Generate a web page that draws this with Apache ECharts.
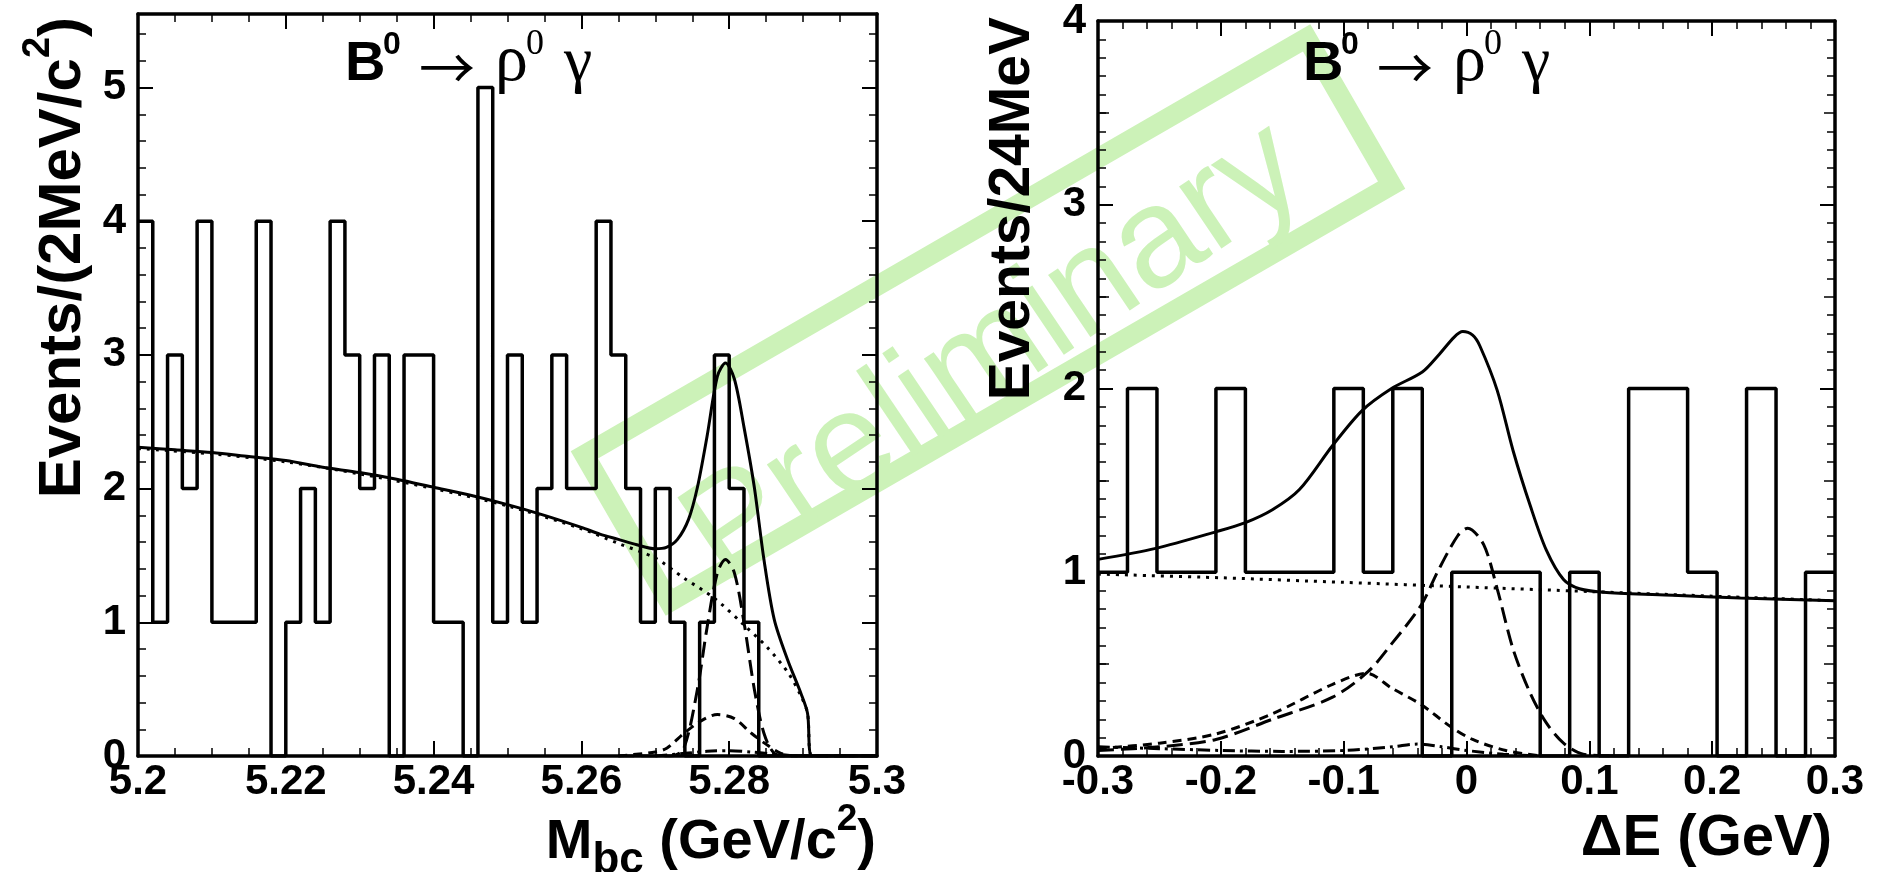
<!DOCTYPE html>
<html>
<head>
<meta charset="utf-8">
<title>B0 to rho0 gamma: Mbc and Delta E fits</title>
<script src="https://cdn.jsdelivr.net/npm/echarts@6/dist/echarts.min.js"></script>
<style>
html, body { margin: 0; padding: 0; background: #fff; }
#main { width: 1879px; height: 872px; }
</style>
</head>
<body>
<div id="main"></div>
<script>
// ---- Mbc histogram: 50 bins of 2 MeV starting at 5.20 GeV
var mbcStart = 5.2;
var mbcBinWidth = 0.002;
var mbcCounts = [4, 1, 3, 2, 4, 1, 1, 1, 4, 0,
                 1, 2, 1, 4, 3, 2, 3, 0, 3, 3,
                 1, 1, 0, 5, 1, 3, 1, 2, 3, 2,
                 2, 4, 3, 2, 1, 2, 1, 0, 1, 3,
                 2, 1, 0, 0, 0, 0, 0, 0, 0, 0];

// fit curves, [Mbc, events]
var mbcTotal = [[5.200, 2.31], [5.205, 2.29], [5.210, 2.27], [5.215, 2.24], [5.220, 2.21],
                [5.225, 2.16], [5.230, 2.12], [5.235, 2.07], [5.240, 2.01], [5.245, 1.95],
                [5.250, 1.88], [5.255, 1.80], [5.260, 1.71], [5.2625, 1.66], [5.265, 1.62],
                [5.2675, 1.58], [5.270, 1.55], [5.2715, 1.56], [5.273, 1.62], [5.2745, 1.77],
                [5.2757, 2.01], [5.277, 2.39], [5.2784, 2.84], [5.2795, 2.94], [5.2807, 2.82],
                [5.282, 2.46], [5.2834, 2.01], [5.2847, 1.47], [5.2861, 1.02], [5.2879, 0.72],
                [5.2897, 0.47], [5.2906, 0.32], [5.2912, 0.0], [5.300, 0.0]];
var mbcBackground = [[5.200, 2.30], [5.210, 2.26], [5.220, 2.20], [5.230, 2.11], [5.240, 2.00],
                     [5.250, 1.87], [5.260, 1.70], [5.265, 1.59], [5.270, 1.48], [5.2739, 1.33],
                     [5.278, 1.18], [5.282, 0.98], [5.2852, 0.81], [5.288, 0.62], [5.2897, 0.45],
                     [5.2906, 0.32], [5.2912, 0.0], [5.300, 0.0]];
var mbcSignal = [[5.265, 0.0], [5.272, 0.0], [5.2738, 0.05], [5.2757, 0.5], [5.277, 0.96],
                 [5.2784, 1.37], [5.2795, 1.47], [5.2807, 1.37], [5.282, 1.0], [5.2834, 0.5],
                 [5.2847, 0.17], [5.2861, 0.02], [5.288, 0.0], [5.300, 0.0]];
var mbcCrossFeed = [[5.265, 0.0], [5.270, 0.03], [5.2716, 0.06], [5.2739, 0.17], [5.2761, 0.26],
                    [5.2784, 0.31], [5.2807, 0.28], [5.283, 0.17], [5.2852, 0.08], [5.287, 0.02],
                    [5.289, 0.0], [5.300, 0.0]];
var mbcOther = [[5.270, 0.0], [5.274, 0.02], [5.277, 0.035], [5.280, 0.04], [5.283, 0.03],
                [5.286, 0.015], [5.289, 0.0]];

// ---- Delta E histogram: 25 bins of 24 MeV starting at -0.3 GeV
var deStart = -0.3;
var deBinWidth = 0.024;
var deCounts = [1, 2, 1, 1, 2, 1, 1, 1, 2, 1,
                2, 0, 1, 1, 1, 0, 1, 0, 2, 2,
                1, 0, 2, 0, 1];

var deTotal = [[-0.300, 1.07], [-0.253, 1.13], [-0.204, 1.22], [-0.180, 1.27], [-0.158, 1.34],
               [-0.136, 1.45], [-0.109, 1.69], [-0.085, 1.88], [-0.061, 2.00], [-0.036, 2.09],
               [-0.023, 2.18], [-0.010, 2.28], [-0.003, 2.31], [0.005, 2.29], [0.011, 2.23],
               [0.025, 1.99], [0.038, 1.66], [0.052, 1.36], [0.065, 1.12], [0.079, 0.96],
               [0.092, 0.91], [0.114, 0.89], [0.168, 0.875], [0.223, 0.86], [0.300, 0.845]];
var deBackground = [[-0.300, 0.99], [-0.200, 0.97], [-0.100, 0.945], [0.000, 0.92],
                    [0.100, 0.895], [0.200, 0.87], [0.300, 0.845]];
var deSignal = [[-0.300, 0.03], [-0.250, 0.05], [-0.204, 0.09], [-0.158, 0.20], [-0.109, 0.32],
                [-0.080, 0.46], [-0.061, 0.61], [-0.037, 0.82], [-0.023, 1.01], [-0.007, 1.20],
                [0.001, 1.24], [0.014, 1.15], [0.025, 0.91], [0.038, 0.58], [0.052, 0.34],
                [0.065, 0.18], [0.079, 0.07], [0.095, 0.01], [0.120, 0.0]];
var deCrossFeed = [[-0.300, 0.04], [-0.250, 0.07], [-0.204, 0.12], [-0.158, 0.23], [-0.109, 0.39],
                   [-0.081, 0.45], [-0.061, 0.37], [-0.037, 0.28], [-0.013, 0.16], [0.005, 0.09],
                   [0.032, 0.03], [0.060, 0.0]];
var deOther = [[-0.300, 0.05], [-0.250, 0.04], [-0.200, 0.03], [-0.150, 0.025], [-0.100, 0.03],
               [-0.060, 0.05], [-0.040, 0.065], [-0.020, 0.05], [0.000, 0.03], [0.030, 0.01],
               [0.060, 0.0]];

var SANS = '"Liberation Sans", Arial, Helvetica, sans-serif';
var SERIF = '"Liberation Serif", "Times New Roman", serif';
var ARROW_FONT = '"Noto Sans CJK JP", "DejaVu Sans", sans-serif';
var GREEN = '#ccf2b8';

// histogram outline: points at the lower bin edges plus the last upper edge
function histSteps(start, width, counts) {
    var pts = [];
    counts.forEach(function (c, i) {
        pts.push([+(start + i * width).toFixed(4), c]);
    });
    pts.push([+(start + counts.length * width).toFixed(4), counts[counts.length - 1]]);
    return pts;
}

function axisCommon(extra) {
    var a = {
        type: 'value',
        axisLine: { show: true, onZero: false, lineStyle: { color: '#000', width: 3.5 } },
        axisTick: { show: true, inside: true, length: 15, lineStyle: { color: '#000', width: 2 } },
        minorTick: { show: false },
        splitLine: { show: false },
        axisLabel: { show: false }
    };
    return Object.assign(a, extra);
}

// extra axis that only carries shorter ticks (minor or medium ROOT ticks)
function tickOnlyAxis(grid, pos, max, interval, len) {
    return axisCommon({
        gridIndex: grid, position: pos, min: 0, max: max, interval: interval,
        axisLine: { show: false, onZero: false },
        axisTick: { show: true, inside: true, length: len, lineStyle: { color: '#000', width: 1.5 } }
    });
}

function tickLabels(margin) {
    return {
        show: true, margin: margin, color: '#000',
        fontFamily: SANS, fontWeight: 'bold', fontSize: 42
    };
}

function minorTicks(n) {
    return { show: true, splitNumber: n, length: 8, lineStyle: { color: '#000', width: 1.5 } };
}

function curve(data, xi, yi, dash) {
    return {
        type: 'line', xAxisIndex: xi, yAxisIndex: yi, data: data,
        symbol: 'none', smooth: 0.3, silent: true, z: 3,
        lineStyle: { color: '#000', width: 3, type: dash }
    };
}

function hist(data, xi, yi) {
    return {
        type: 'line', xAxisIndex: xi, yAxisIndex: yi, data: data, step: 'end',
        symbol: 'none', silent: true, z: 4,
        lineStyle: { color: '#000', width: 3.5 }
    };
}

var measureCtx = document.createElement('canvas').getContext('2d');
function fontOf(p) {
    return (p.weight || 'bold') + ' ' + p.size + 'px ' + (p.family || SANS);
}

// a run of text pieces (for sub/superscripts) laid along one baseline.
// (ax, ay) is on the main baseline at the start (align left) or end (align right).
function textRun(parts, ax, ay, align, rot) {
    var widths = parts.map(function (p) {
        measureCtx.font = fontOf(p);
        return measureCtx.measureText(p.text).width;
    });
    var total = widths.reduce(function (a, b) { return a + b; }, 0);
    var u = align === 'right' ? -total : 0;
    var c = Math.cos(rot), s = Math.sin(rot);
    var els = [];
    parts.forEach(function (p, i) {
        var v = (p.dy || 0) - 0.31 * p.size;
        els.push({
            type: 'text', x: ax + u * c + v * s, y: ay - u * s + v * c, rotation: rot,
            z: 100, silent: true,
            style: {
                text: p.text, fill: '#000', font: fontOf(p),
                align: 'left', verticalAlign: 'middle', textAlign: 'left', textVerticalAlign: 'middle'
            }
        });
        u += widths[i];
    });
    return els;
}

function decayTitle(x0) {
    return textRun([{ text: 'B', size: 56 }], x0, 82, 'left', 0).concat(
        textRun([{ text: '0', size: 32 }], x0 + 38, 55, 'left', 0),
        [{
            type: 'text', x: x0 + 102, y: 68, z: 100, silent: true,
            style: {
                text: '\u2192', fill: '#000', font: 'normal 56px ' + ARROW_FONT,
                align: 'center', verticalAlign: 'middle', textAlign: 'center', textVerticalAlign: 'middle'
            }
        }],
        textRun([{ text: '\u03c1', size: 66, weight: 'normal', family: SERIF }], x0 + 150, 83, 'left', 0),
        textRun([{ text: '0', size: 36, weight: 'normal', family: SERIF }], x0 + 181, 56, 'left', 0),
        textRun([{ text: '\u03b3', size: 64, weight: 'normal', family: SERIF }], x0 + 219, 83, 'left', 0)
    );
}

var graphics = [
    // Preliminary watermark, under everything
    {
        type: 'rect', x: 988, y: 320, rotation: Math.PI / 6, z: -1, silent: true,
        shape: { x: -417, y: -85, width: 834, height: 170 },
        style: { fill: 'none', stroke: GREEN, lineWidth: 20 }
    },
    {
        type: 'text', x: 995, y: 354, rotation: 34 * Math.PI / 180, z: -1, silent: true,
        style: {
            text: 'Preliminary', fill: GREEN, font: 'normal 142px ' + SANS,
            align: 'center', verticalAlign: 'middle', textAlign: 'center', textVerticalAlign: 'middle'
        }
    }
].concat(
    // y titles, rotated, ending at the top of the axis
    textRun([{ text: 'Events/(2MeV/c', size: 60 }, { text: '2', size: 38, dy: -32 }, { text: ')', size: 60 }],
            82, 17, 'right', Math.PI / 2),
    textRun([{ text: 'Events/24MeV', size: 57 }], 1031, 17, 'right', Math.PI / 2),
    // x titles
    textRun([{ text: 'M', size: 56 }, { text: 'bc', size: 44, dy: 14 }, { text: ' (GeV/c', size: 56 },
             { text: '2', size: 37, dy: -29 }, { text: ')', size: 56 }], 876, 860, 'right', 0),
    textRun([{ text: '\u0394E (GeV)', size: 58 }], 1832, 857, 'right', 0),
    decayTitle(345),
    decayTitle(1303)
);

var option = {
    animation: false,
    backgroundColor: '#fff',
    grid: [
        { left: 138, top: 14, width: 739, height: 742 },
        { left: 1098, top: 14, width: 737, height: 742 }
    ],
    xAxis: [
        axisCommon({ gridIndex: 0, position: 'bottom', min: 5.2, max: 5.3, interval: 0.02,
                     minorTick: minorTicks(4), axisLabel: tickLabels(5) }),
        axisCommon({ gridIndex: 0, position: 'top', min: 5.2, max: 5.3, interval: 0.02,
                     minorTick: minorTicks(4) }),
        axisCommon({ gridIndex: 1, position: 'bottom', min: -0.3, max: 0.3, interval: 0.1,
                     minorTick: minorTicks(5), axisLabel: tickLabels(5) }),
        axisCommon({ gridIndex: 1, position: 'top', min: -0.3, max: 0.3, interval: 0.1,
                     minorTick: minorTicks(5) })
    ],
    yAxis: [
        // left plot: major ticks with labels, and separate axes for the 0.2 minor ticks
        axisCommon({ gridIndex: 0, position: 'left', min: 0, max: 5.55, interval: 1,
                     axisLabel: Object.assign(tickLabels(12), { showMaxLabel: false }) }),
        axisCommon({ gridIndex: 0, position: 'right', min: 0, max: 5.55, interval: 1 }),
        tickOnlyAxis(0, 'left', 5.55, 0.2, 8),
        tickOnlyAxis(0, 'right', 5.55, 0.2, 8),
        // right plot: labels every 1, medium ticks every 0.5, minor every 0.1
        axisCommon({ gridIndex: 1, position: 'left', min: 0, max: 4, interval: 1,
                     minorTick: minorTicks(10), axisLabel: tickLabels(12) }),
        axisCommon({ gridIndex: 1, position: 'right', min: 0, max: 4, interval: 1,
                     minorTick: minorTicks(10) }),
        tickOnlyAxis(1, 'left', 4, 0.5, 11),
        tickOnlyAxis(1, 'right', 4, 0.5, 11)
    ],
    graphic: { elements: graphics },
    series: [
        hist(histSteps(mbcStart, mbcBinWidth, mbcCounts), 0, 0),
        curve(mbcTotal, 0, 0, 'solid'),
        curve(mbcBackground, 0, 0, [3, 6]),
        curve(mbcSignal, 0, 0, [16, 7]),
        curve(mbcCrossFeed, 0, 0, [9, 6]),
        curve(mbcOther, 0, 0, [12, 5, 3, 5]),

        hist(histSteps(deStart, deBinWidth, deCounts), 2, 4),
        curve(deTotal, 2, 4, 'solid'),
        curve(deBackground, 2, 4, [3, 6]),
        curve(deSignal, 2, 4, [16, 7]),
        curve(deCrossFeed, 2, 4, [9, 6]),
        curve(deOther, 2, 4, [12, 5, 3, 5])
    ]
};

var chart = echarts.init(document.getElementById('main'), null, { renderer: 'canvas' });
chart.setOption(option);
</script>
</body>
</html>
